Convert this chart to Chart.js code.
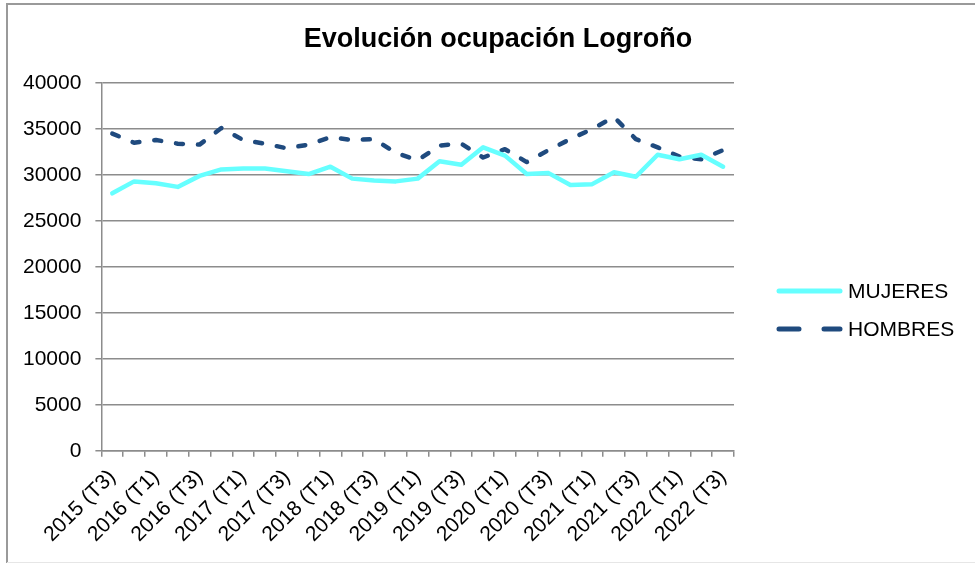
<!DOCTYPE html>
<html lang="es">
<head>
<meta charset="utf-8">
<title>Evolución ocupación Logroño</title>
<script src="https://cdn.jsdelivr.net/npm/chart.js@4.4.0/dist/chart.umd.min.js"></script>
<style>
  html, body { margin: 0; padding: 0; background: #fff; }
  #wrap { position: relative; width: 975px; height: 564px; }
</style>
</head>
<body>
<div id="wrap"><canvas id="grafico" width="975" height="564"></canvas></div>
<script>
// Datos (trimestres)
const categorias = [
    '2015 (T3)', '2015 (T4)',
    '2016 (T1)', '2016 (T2)', '2016 (T3)', '2016 (T4)',
    '2017 (T1)', '2017 (T2)', '2017 (T3)', '2017 (T4)',
    '2018 (T1)', '2018 (T2)', '2018 (T3)', '2018 (T4)',
    '2019 (T1)', '2019 (T2)', '2019 (T3)', '2019 (T4)',
    '2020 (T1)', '2020 (T2)', '2020 (T3)', '2020 (T4)',
    '2021 (T1)', '2021 (T2)', '2021 (T3)', '2021 (T4)',
    '2022 (T1)', '2022 (T2)', '2022 (T3)'
];
const mujeres = [28000, 29300, 29100, 28700, 29900, 30600, 30700, 30700, 30400, 30100,
                 30900, 29600, 29400, 29300, 29600, 31500, 31100, 33000, 32100, 30100,
                 30200, 28900, 29000, 30300, 29800, 32200, 31700, 32200, 30900];
const hombres = [34500, 33500, 33800, 33400, 33300, 35100, 33800, 33400, 32900, 33300,
                 34100, 33800, 33900, 32400, 31600, 33200, 33400, 31900, 32800, 31400,
                 32700, 33900, 35000, 36300, 33900, 33000, 32000, 31700, 32700];
const ticksY = [0, 5000, 10000, 15000, 20000, 25000, 30000, 35000, 40000];

const titulo = 'Evolución ocupación Logroño';
const COLOR_MUJERES = '#66ffff';
const COLOR_HOMBRES = '#1f4a7e';
const GRIS = '#8c8c8c';
const FUENTE = '"Liberation Sans", Arial, sans-serif';

Chart.defaults.font.family = FUENTE;
Chart.defaults.color = '#000';

// Marco, titulo y leyenda al estilo Excel
const marcoYLeyenda = {
    id: 'marcoYLeyenda',
    afterDraw(chart) {
        const ctx = chart.ctx;
        ctx.save();

        // marco exterior
        ctx.strokeStyle = '#9a9a9a';
        ctx.lineWidth = 2;
        ctx.beginPath();
        ctx.moveTo(7, 563);
        ctx.lineTo(7, 4);
        ctx.lineTo(975, 4);
        ctx.stroke();
        ctx.strokeStyle = '#e6e6e6';
        ctx.lineWidth = 1;
        ctx.beginPath();
        ctx.moveTo(7, 562.5);
        ctx.lineTo(975, 562.5);
        ctx.stroke();

        // titulo
        ctx.fillStyle = '#000';
        ctx.font = 'bold 27px ' + FUENTE;
        ctx.textAlign = 'center';
        ctx.textBaseline = 'alphabetic';
        ctx.fillText(titulo, 498, 47);

        // leyenda
        const items = chart.data.datasets.map((ds, i) => ({ ds, y: 291 + i * 38 }));
        items.forEach(({ ds, y }) => {
            ctx.strokeStyle = ds.borderColor;
            ctx.lineWidth = 5;
            ctx.lineCap = 'round';
            ctx.setLineDash(ds.borderDash && ds.borderDash.length ? [20, 25] : []);
            ctx.beginPath();
            ctx.moveTo(779, y);
            ctx.lineTo(840, y);
            ctx.stroke();
            ctx.setLineDash([]);
            ctx.fillStyle = '#000';
            ctx.font = '21px ' + FUENTE;
            ctx.textAlign = 'left';
            ctx.textBaseline = 'middle';
            ctx.fillText(ds.label, 848, y + 1);
        });
        ctx.restore();
    }
};

new Chart(document.getElementById('grafico'), {
    type: 'line',
    data: {
        labels: categorias,
        datasets: [
            {
                label: 'MUJERES',
                data: mujeres,
                borderColor: COLOR_MUJERES,
                borderWidth: 4.5,
                borderCapStyle: 'round',
                borderJoinStyle: 'round',
                pointRadius: 0,
                tension: 0,
                fill: false,
            },
            {
                label: 'HOMBRES',
                data: hombres,
                borderColor: COLOR_HOMBRES,
                borderWidth: 4.5,
                borderDash: [7, 15],
                borderCapStyle: 'round',
                borderJoinStyle: 'round',
                pointRadius: 0,
                tension: 0,
                fill: false,
            }
        ]
    },
    options: {
        responsive: false,
        animation: false,
        layout: { padding: { left: 9, right: 241, top: 83, bottom: 9 } },
        plugins: {
            legend: { display: false },
            title: { display: false },
            tooltip: { enabled: false },
        },
        scales: {
            x: {
                offset: true,
                grid: { offset: true, drawOnChartArea: false, drawTicks: true, tickLength: 6, color: GRIS, lineWidth: 1.5 },
                border: { display: true, color: GRIS, width: 1.5 },
                ticks: {
                    autoSkip: false,
                    maxRotation: 45,
                    minRotation: 45,
                    padding: 8,
                    font: { size: 21 },
                    color: '#000',
                    callback: function (value, index) {
                        return index % 2 === 0 ? this.getLabelForValue(value) : '';
                    },
                },
            },
            y: {
                min: 0,
                max: 40000,
                afterBuildTicks: (axis) => { axis.ticks = ticksY.map(v => ({ value: v })); },
                grid: { color: GRIS, lineWidth: 1.5, tickLength: 6 },
                border: { display: true, color: GRIS, width: 1.5 },
                ticks: { padding: 14, font: { size: 21 }, color: '#000', callback: (v) => String(v) },
            },
        },
    },
    plugins: [marcoYLeyenda],
});
</script>
</body>
</html>
